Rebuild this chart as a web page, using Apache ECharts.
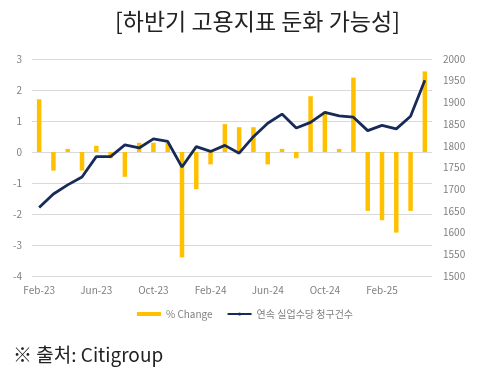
<!DOCTYPE html>
<html><head><meta charset="utf-8">
<script src="https://cdn.jsdelivr.net/npm/echarts@6/dist/echarts.min.js"></script>
<style>html,body{margin:0;padding:0;background:#fff;}#c{width:490px;height:376px;}</style>
</head><body><div id="c"></div>
<script>
const categories = ['Feb-23','Mar-23','Apr-23','May-23','Jun-23','Jul-23','Aug-23','Sep-23','Oct-23','Nov-23','Dec-23',
  'Jan-24','Feb-24','Mar-24','Apr-24','May-24','Jun-24','Jul-24','Aug-24','Sep-24','Oct-24','Nov-24','Dec-24',
  'Jan-25','Feb-25','Mar-25','Apr-25','May-25'];
const pctChange = [1.7,-0.6,0.1,-0.6,0.2,-0.2,-0.8,0.3,0.3,0.3,-3.4,
  -1.2,-0.4,0.9,0.8,0.8,-0.4,0.1,-0.2,1.8,1.3,0.1,2.4,
  -1.9,-2.2,-2.6,-1.9,2.6];
const claims = [1658,1689,1710,1728,1775,1775,1802,1795,1816,1810,1751,
  1798,1787,1801,1783,1821,1852,1873,1841,1854,1877,1869,1866,
  1835,1847,1839,1868,1951];
const leftTicks = [-4,3,1];
const rightTicks = [1500,2000,50];
const titleText = '[하반기 고용지표 둔화 가능성]';
const sourceText = '※ 출처: Citigroup';
const seriesNames = ['% Change','연속 실업수당 청구건수'];

const FONT = "'Noto Sans CJK KR', 'Noto Sans', sans-serif";
const chart = echarts.init(document.getElementById('c'), null, {renderer:'canvas'});
chart.setOption({
  animation:false,
  textStyle:{fontFamily:FONT},
  title:[
    {text:titleText, left:115, top:10, padding:0, textStyle:{fontSize:23, fontWeight:'normal', color:'#222', fontFamily:FONT}},
    {text:sourceText, left:8, top:340, textStyle:{fontSize:19, fontWeight:'normal', color:'#222', fontFamily:FONT}}
  ],
  legend:{
    top:304, left:'center', itemWidth:24, itemHeight:4, itemGap:14,
    textStyle:{fontSize:10, color:'#7f7f7f', fontFamily:FONT},
    data:[{name:seriesNames[0], icon:'rect'},{name:seriesNames[1]}]
  },
  grid:{left:32, right:58, top:59, bottom:100},
  xAxis:{
    type:'category', data:categories, boundaryGap:true,
    axisLine:{show:false, onZero:false}, axisTick:{show:false},
    axisLabel:{interval:3, color:'#7f7f7f', fontSize:10, margin:9, fontFamily:FONT}
  },
  yAxis:[
    {type:'value', min:leftTicks[0], max:leftTicks[1], interval:leftTicks[2],
     axisLine:{show:false}, axisTick:{show:false},
     axisLabel:{color:'#7f7f7f', fontSize:10, margin:10, fontFamily:FONT},
     splitLine:{lineStyle:{color:'#d9d9d9', width:1}}},
    {type:'value', position:'right', min:rightTicks[0], max:rightTicks[1], interval:rightTicks[2],
     axisLine:{show:false}, axisTick:{show:false},
     axisLabel:{color:'#7f7f7f', fontSize:10, margin:11, fontFamily:FONT, formatter:v => String(v)},
     splitLine:{show:false}}
  ],
  series:[
    {name:seriesNames[0], type:'bar', data:pctChange, yAxisIndex:0, barWidth:4.5,
     itemStyle:{color:'#FFC000'}},
    {name:seriesNames[1], type:'line', data:claims, yAxisIndex:1, symbol:'none',
     lineStyle:{color:'#172a5a', width:2.8}, itemStyle:{color:'#172a5a'}}
  ]
});
</script></body></html>
